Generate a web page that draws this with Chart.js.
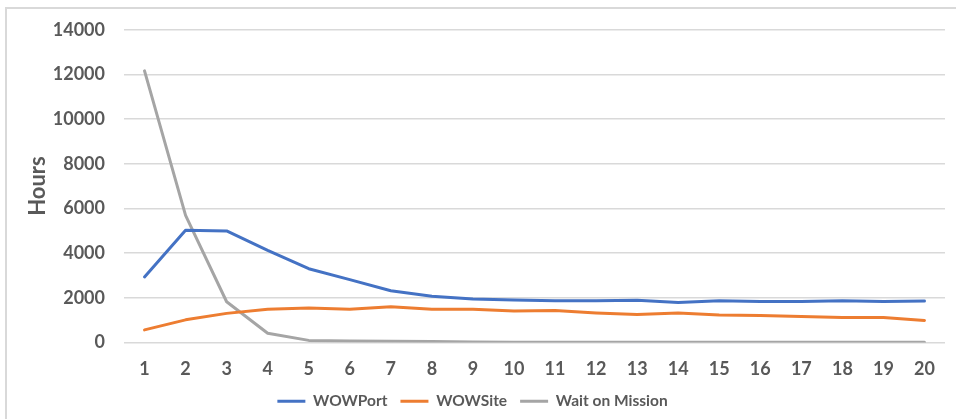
<!DOCTYPE html>
<html>
<head>
<meta charset="utf-8">
<script src="https://cdn.jsdelivr.net/npm/chart.js@4.4.1/dist/chart.umd.min.js"></script>
<style>
  html, body { margin: 0; padding: 0; background: #fff; }
  #frame {
    position: absolute; left: 5px; top: 7px; width: 951px; height: 412px;
    border-top: 2px solid #d9d9d9; border-left: 2px solid #d9d9d9;
  }
  #wrap { position: absolute; left: 0; top: 0; width: 956px; height: 419px; }
</style>
</head>
<body>
<div id="frame"></div>
<div id="wrap"><canvas id="hours-chart" width="956" height="419"></canvas></div>
<script>
// categories and series
const categories = ['1','2','3','4','5','6','7','8','9','10','11','12','13','14','15','16','17','18','19','20'];
const wowPort = [2930, 5020, 4990, 4120, 3300, 2810, 2310, 2070, 1940, 1900, 1870, 1860, 1890, 1790, 1860, 1830, 1830, 1860, 1830, 1850];
const wowSite = [560, 1010, 1300, 1480, 1540, 1480, 1600, 1480, 1480, 1410, 1430, 1320, 1250, 1320, 1230, 1200, 1160, 1110, 1110, 980];
const waitOnMission = [12160, 5690, 1820, 410, 90, 60, 50, 40, 15, 10, 10, 10, 10, 10, 10, 10, 10, 10, 10, 10];
const yTicks = [0, 2000, 4000, 6000, 8000, 10000, 12000, 14000];

const textColor = '#595959';
const fontFamily = 'Lato, "Open Sans", sans-serif';

const ctx = document.getElementById('hours-chart').getContext('2d');

const makeSet = (label, values, color) => ({
    label: label,
    data: values,
    borderColor: color,
    backgroundColor: color,
    borderWidth: 3,
    pointRadius: 0,
    tension: 0,
    borderCapStyle: 'round',
    borderJoinStyle: 'round'
});

const hoursChart = new Chart(ctx, {
    type: 'line',
    data: {
        labels: categories,
        datasets: [
            makeSet('WOWPort', wowPort, '#4472C4'),
            makeSet('WOWSite', wowSite, '#ED7D31'),
            makeSet('Wait on Mission', waitOnMission, '#A5A5A5')
        ]
    },
    options: {
        responsive: false,
        devicePixelRatio: 1,
        animation: false,
        layout: { padding: { top: 12, right: 11, left: 0, bottom: 0 } },
        scales: {
            x: {
                offset: true,
                grid: { display: false, drawTicks: false },
                border: { display: false },
                afterFit: (axis) => { axis.height -= 15.5; },
                ticks: {
                    color: textColor,
                    padding: 16,
                    maxRotation: 0,
                    font: { family: fontFamily, size: 18, weight: 'bold' }
                }
            },
            y: {
                min: 0,
                max: yTicks[yTicks.length - 1],
                afterBuildTicks: (axis) => { axis.ticks = yTicks.map(v => ({ value: v })); },
                afterFit: (axis) => { axis.width = 124; },
                border: { display: false },
                grid: { color: '#d9d9d9', lineWidth: 1.5, drawTicks: false },
                ticks: {
                    color: textColor,
                    padding: 19,
                    callback: (v) => String(v),
                    font: { family: fontFamily, size: 18, weight: 'bold' }
                },
                title: {
                    display: true,
                    text: 'Hours',
                    color: textColor,
                    padding: { top: 25, bottom: 0 },
                    font: { family: fontFamily, size: 22, weight: 'bold' }
                }
            }
        },
        plugins: {
            legend: {
                display: true,
                position: 'bottom',
                labels: {
                    usePointStyle: true,
                    pointStyle: 'line',
                    pointStyleWidth: 28,
                    padding: 13,
                    color: textColor,
                    font: { family: fontFamily, size: 15.5, weight: 'bold' }
                }
            },
            tooltip: { enabled: false }
        }
    }
});
</script>
</body>
</html>
